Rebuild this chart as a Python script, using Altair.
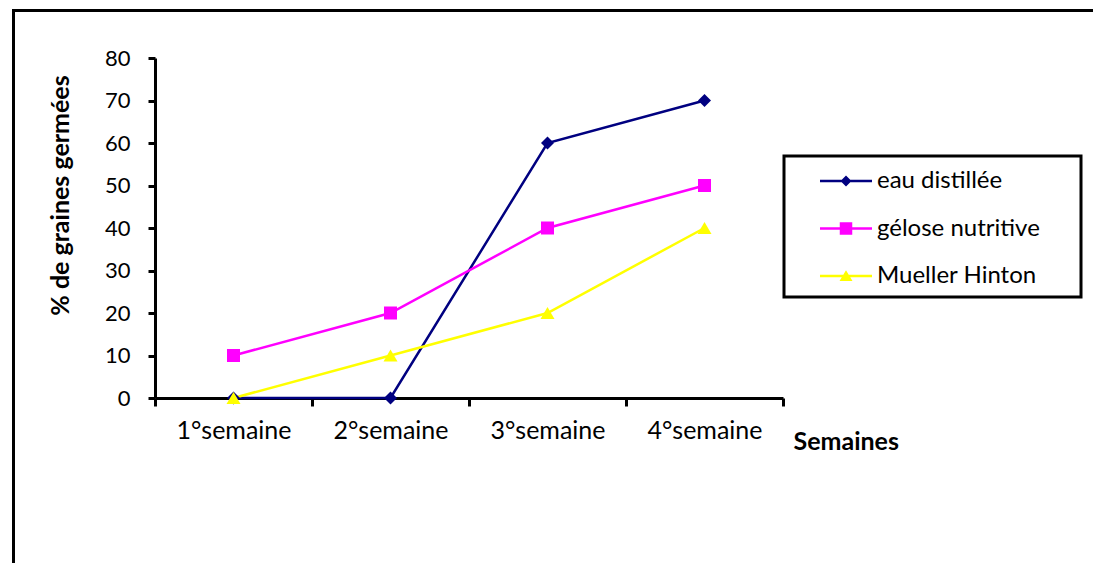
import altair as alt
import pandas as pd

weeks = ["1°semaine", "2°semaine", "3°semaine", "4°semaine"]
series = ["eau distillée", "gélose nutritive", "Mueller Hinton"]
eau_distillee = [0, 0, 60, 70]
gelose_nutritive = [10, 20, 40, 50]
mueller_hinton = [0, 10, 20, 40]
colors = ["#000080", "#FF00FF", "#FFFF00"]
y_ticks = [0, 10, 20, 30, 40, 50, 60, 70, 80]

rows = []
for name, vals in zip(series, [eau_distillee, gelose_nutritive, mueller_hinton]):
    for w, v in zip(weeks, vals):
        rows.append({"semaine": w, "serie": name, "valeur": v})
df = pd.DataFrame(rows)
one = pd.DataFrame({"k": [0]})

FONT = "Lato"
W, H = 628, 340

color_scale = alt.Scale(domain=series, range=colors)

x_enc = alt.X(
    "semaine:N",
    sort=weeks,
    scale=alt.Scale(type="band", paddingInner=0, paddingOuter=0),
    axis=alt.Axis(
        title="Semaines",
        titleFont=FONT, titleFontSize=25, titleFontWeight="bold", titleColor="black",
        titleX=638, titleY=43, titleAlign="left", titleBaseline="middle",
        labelFont=FONT, labelFontSize=25, labelColor="black", labelAngle=0,
        labelPadding=12,
        domainColor="black", domainWidth=3,
        tickColor="black", tickWidth=3, tickSize=8, tickBand="extent",
        grid=False,
    ),
)
y_enc = alt.Y(
    "valeur:Q",
    scale=alt.Scale(domain=[0, 80]),
    axis=alt.Axis(
        values=y_ticks,
        title="% de graines germées",
        titleFont=FONT, titleFontSize=25, titleFontWeight="bold", titleColor="black",
        titleX=-95, titleY=137, titleAlign="center", titleBaseline="middle", titleAngle=-90,
        labelFont=FONT, labelFontSize=22, labelColor="black",
        labelPadding=18,
        domainColor="black", domainWidth=3,
        tickColor="black", tickWidth=3, tickSize=7,
        grid=False,
    ),
)

base = alt.Chart(df)

seg = "M-5.2,-0.25H5.2V0.25H-5.2Z "
legend_paths = [
    seg + "M-1.1,0L0,-1.1L1.1,0L0,1.1Z",
    seg + "M-1.25,-1.25H1.25V1.25H-1.25Z",
    seg + "M0,-1.15L1.3,1.0H-1.3Z",
]
leg_props = dict(
    title=None, orient="none", legendX=679, legendY=111, padding=0,
    rowPadding=23.5, labelFont=FONT, labelFontSize=24, labelColor="black",
    labelOffset=19, labelLimit=400, symbolSize=100, symbolStrokeWidth=0, symbolOpacity=1,
)
legend_layer = base.transform_filter("false").mark_point(filled=True, size=100, opacity=1).encode(
    color=alt.Color("serie:N", scale=color_scale, legend=alt.Legend(**leg_props)),
    shape=alt.Shape("serie:N", scale=alt.Scale(domain=series, range=legend_paths), legend=alt.Legend(**leg_props)),
)

frame = alt.Chart(one).mark_rect(fill="white", fillOpacity=0, stroke="black", strokeWidth=3).encode(
    x=alt.value(-141.5), x2=alt.value(1300), y=alt.value(-47.5), y2=alt.value(800)
)

lines = base.mark_line(strokeWidth=2.5).encode(
    x=x_enc, y=y_enc,
    color=alt.Color("serie:N", scale=color_scale, legend=None),
    detail="serie:N",
)

marker_shapes = ["diamond", "square", "triangle-up"]
marker_sizes = [169, 169, 196]
point_layers = []
for name, shp, sz in zip(series, marker_shapes, marker_sizes):
    point_layers.append(
        base.transform_filter(alt.datum.serie == name)
        .mark_point(filled=True, shape=shp, size=sz, opacity=1)
        .encode(x=x_enc, y=y_enc, color=alt.Color("serie:N", scale=color_scale, legend=None))
    )

legend_box = alt.Chart(one).mark_rect(fill="white", fillOpacity=0, stroke="black", strokeWidth=3).encode(
    x=alt.value(629), x2=alt.value(926), y=alt.value(98), y2=alt.value(239)
)

chart = alt.layer(legend_layer, frame, lines, *point_layers, legend_box).properties(
    width=W, height=H,
    autosize=alt.AutoSizeParams(type="none"),
    padding={"left": 147, "top": 50, "right": 310, "bottom": 165},
    background="white",
).configure_view(stroke=None)

chart.save("out.html", embed_options={"renderer": "svg", "actions": False})
